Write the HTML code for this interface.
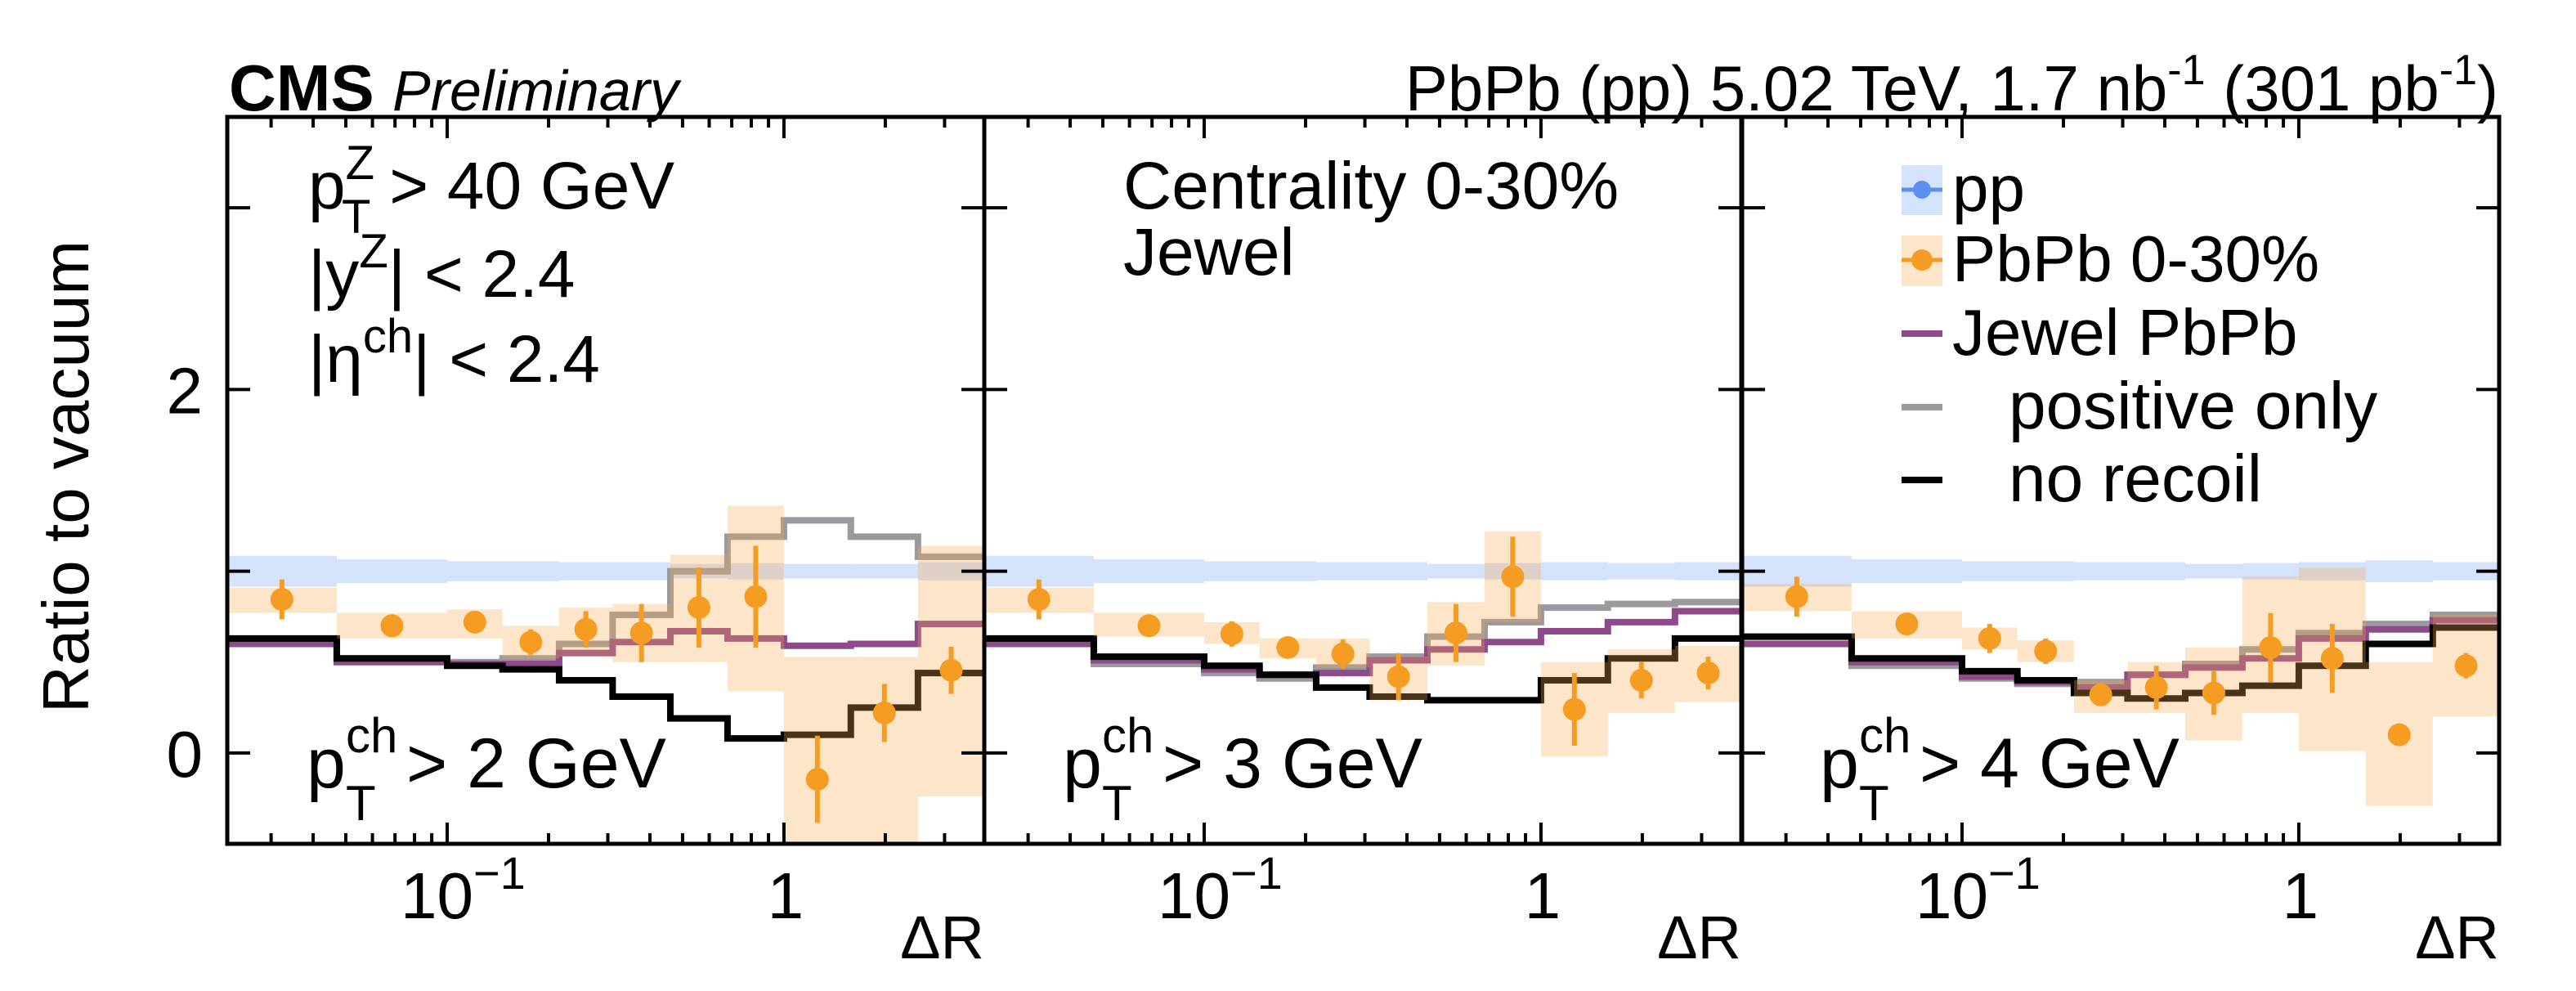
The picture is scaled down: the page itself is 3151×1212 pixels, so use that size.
<!DOCTYPE html>
<html><head><meta charset="utf-8">
<style>
html,body{margin:0;padding:0;background:#fff;}
svg{display:block;font-family:"Liberation Sans",Arial,sans-serif;}
</style></head>
<body>
<svg id="chart" width="3151" height="1212" viewBox="0 0 3151 1212" xmlns="http://www.w3.org/2000/svg"></svg>
<script>
// ---- data ----
const binEdges = [0.0222, 0.047, 0.1, 0.146, 0.215, 0.31, 0.46, 0.68, 1.0, 1.58, 2.5, 3.94];
const yTicks = [0, 1, 2, 3];
const yTickLabels = ["0", "", "2", ""];
const ptLabels = ["2", "3", "4"];

const p1Val = [0.845,0.70,0.72,0.61,0.68,0.66,0.80,0.86,-0.145,0.22,0.455];
const p1Stat = [0.11,0.03,0.06,0.07,0.10,0.16,0.22,0.28,0.24,0.16,0.13];
const p1SysHi = [0.91,0.77,0.79,0.70,0.80,0.82,1.09,1.36,0.53,0.53,1.14];
const p1SysLo = [0.77,0.63,0.63,0.52,0.53,0.50,0.50,0.34,-0.9,-0.7,-0.24];
const p1Jewel = [0.60,0.50,0.49,0.49,0.55,0.61,0.67,0.63,0.59,0.60,0.71];
const p1Pos = [0.60,0.52,0.50,0.52,0.60,0.76,1.00,1.19,1.28,1.19,1.08];
const p1NoRec = [0.63,0.52,0.48,0.46,0.40,0.31,0.19,0.08,0.10,0.25,0.44];
const p1PpErr = [0.085,0.065,0.055,0.055,0.05,0.05,0.04,0.045,0.04,0.04,0.05];

const p2Val = [0.845,0.70,0.655,0.58,0.545,0.42,0.66,0.97,0.24,0.40,0.44];
const p2Stat = [0.11,0.04,0.07,0.06,0.08,0.13,0.16,0.22,0.20,0.10,0.09];
const p2SysHi = [0.91,0.77,0.72,0.63,0.63,0.53,0.83,1.22,0.50,0.57,0.59];
const p2SysLo = [0.77,0.64,0.60,0.52,0.47,0.29,0.48,0.72,-0.02,0.22,0.28];
const p2Jewel = [0.60,0.51,0.46,0.43,0.44,0.51,0.57,0.61,0.67,0.72,0.78];
const p2Pos = [0.60,0.49,0.44,0.41,0.47,0.53,0.64,0.72,0.80,0.82,0.83];
const p2NoRec = [0.63,0.53,0.48,0.43,0.36,0.31,0.29,0.29,0.40,0.52,0.63];
const p2PpErr = [0.085,0.065,0.055,0.055,0.05,0.05,0.04,0.045,0.05,0.045,0.05];

const p3Val = [0.86,0.71,0.63,0.56,0.32,0.36,0.33,0.58,0.52,0.10,0.48];
const p3Stat = [0.11,0.03,0.08,0.07,0.05,0.12,0.12,0.19,0.19,0.06,0.07];
const p3SysHi = [0.93,0.78,0.69,0.62,0.40,0.50,0.58,0.97,1.02,0.50,0.76];
const p3SysLo = [0.78,0.63,0.57,0.50,0.22,0.22,0.07,0.22,0.01,-0.29,0.20];
const p3Jewel = [0.60,0.50,0.42,0.39,0.36,0.43,0.47,0.52,0.63,0.68,0.73];
const p3Pos = [0.60,0.48,0.41,0.38,0.39,0.43,0.49,0.57,0.66,0.71,0.76];
const p3NoRec = [0.64,0.52,0.45,0.40,0.33,0.30,0.33,0.37,0.48,0.60,0.69];
const p3PpErr = [0.085,0.065,0.055,0.055,0.05,0.05,0.04,0.045,0.05,0.06,0.05];

// ---- layout ----
const NS = "http://www.w3.org/2000/svg";
const svg = document.getElementById("chart");
const panelX = [278, 1204, 2131];
const panelW = 926;
const plotTop = 143, plotBot = 1032;
const yMin = -0.5, yMax = 3.5;
const logMin = -1.653, logMax = 0.595;
function yS(v){ return plotBot - (v - yMin) / (yMax - yMin) * (plotBot - plotTop); }
function xS(p, v){ return panelX[p] + (Math.log10(v) - logMin) / (logMax - logMin) * panelW; }
function mk(tag, attrs, parent){
  const e = document.createElementNS(NS, tag);
  for (const k in attrs) e.setAttribute(k, attrs[k]);
  (parent || svg).appendChild(e);
  return e;
}
const clipDef = mk("defs", {});
for (let p = 0; p < 3; p++) {
  const cp = mk("clipPath", {id: "clip" + p}, clipDef);
  mk("rect", {x: panelX[p], y: plotTop, width: panelW, height: plotBot - plotTop}, cp);
}

const panels = [
  {val:p1Val, stat:p1Stat, hi:p1SysHi, lo:p1SysLo, jw:p1Jewel, pos:p1Pos, nr:p1NoRec, pp:p1PpErr},
  {val:p2Val, stat:p2Stat, hi:p2SysHi, lo:p2SysLo, jw:p2Jewel, pos:p2Pos, nr:p2NoRec, pp:p2PpErr},
  {val:p3Val, stat:p3Stat, hi:p3SysHi, lo:p3SysLo, jw:p3Jewel, pos:p3Pos, nr:p3NoRec, pp:p3PpErr}
];

function stepPath(p, arr){
  let d = "";
  for (let i = 0; i < arr.length; i++) {
    const x0 = xS(p, binEdges[i]), x1 = xS(p, binEdges[i+1]), y = yS(arr[i]);
    d += (i === 0 ? "M" : "L") + x0 + "," + y + " L" + x1 + "," + y + " ";
  }
  return d;
}

panels.forEach((P, p) => {
  const g = mk("g", {"clip-path": "url(#clip" + p + ")"});
  
  
  for (let i = 0; i < P.pp.length; i++) {
    const x0 = xS(p, binEdges[i]), x1 = xS(p, binEdges[i+1]);
    const r = mk("rect", {x:x0, y:yS(1+P.pp[i]), width:x1-x0, height:yS(1-P.pp[i])-yS(1+P.pp[i]), fill:"rgba(100,150,240,0.28)"}, g);
    
    
  }
  const series = [[P.pos, "#9a9a9e", "positive-only-line"], [P.jw, "#8f4a8c", "jewel-pbpb-line"], [P.nr, "#000000", "no-recoil-line"]];
  series.forEach(s => {
    const l = mk("path", {d: stepPath(p, s[0]), fill:"none", stroke:s[1], "stroke-width":8}, g);
    
    
  });
  for (let i = 0; i < P.val.length; i++) {
    const x0 = xS(p, binEdges[i]), x1 = xS(p, binEdges[i+1]);
    const b = mk("rect", {x:x0, y:yS(P.hi[i]), width:x1-x0, height:yS(P.lo[i])-yS(P.hi[i]), fill:"rgba(248,170,80,0.3)"}, g);
    
    
  }
  for (let i = 0; i < P.val.length; i++) {
    const xc = Math.sqrt(binEdges[i] * binEdges[i+1]);
    const x = xS(p, xc);
    const e = mk("line", {x1:x, x2:x, y1:yS(P.val[i]+P.stat[i]), y2:yS(P.val[i]-P.stat[i]), stroke:"#f59c22", "stroke-width":6}, g);
    
    
    const c = mk("circle", {cx:x, cy:yS(P.val[i]), r:14, fill:"#f59c22"}, g);
    
    
  }
  const f = mk("rect", {x:panelX[p], y:plotTop, width:panelW, height:plotBot-plotTop, fill:"none", stroke:"#000", "stroke-width":5});
  
  
  yTicks.forEach((t, k) => {
    const y = yS(t);
    const tl = mk("line", {x1:panelX[p], x2:panelX[p]+28, y1:y, y2:y, stroke:"#000", "stroke-width":4});
    
    
    const tr = mk("line", {x1:panelX[p]+panelW-28, x2:panelX[p]+panelW, y1:y, y2:y, stroke:"#000", "stroke-width":4});
    
    
    if (p === 0 && yTickLabels[k]) {
      const lab = mk("text", {x:panelX[0]-30, y:y+29, "font-size":80, "text-anchor":"end"});
      lab.textContent = yTickLabels[k];
      
      
    }
  });
  for (let dec = -2; dec <= 0; dec++) {
    for (let m = 1; m <= 9; m++) {
      const v = m * Math.pow(10, dec);
      if (v < binEdges[0] || v > binEdges[binEdges.length-1]) continue;
      const x = xS(p, v);
      const len = m === 1 ? 26 : 13;
      const b = mk("line", {x1:x, x2:x, y1:plotBot, y2:plotBot-len, stroke:"#000", "stroke-width":4});
      
      
      const t = mk("line", {x1:x, x2:x, y1:plotTop, y2:plotTop+len, stroke:"#000", "stroke-width":4});
      
      
    }
  }
  const l1 = mk("text", {x:xS(p,0.1)-57, y:1123, "font-size":80});
  l1.innerHTML = '10<tspan dy="-36" font-size="56">−1</tspan>';
  
  
  const l2 = mk("text", {x:xS(p,1)+2, y:1123, "font-size":80, "text-anchor":"middle"});
  l2.textContent = "1";
  
  
  const xt = mk("text", {x:panelX[p]+panelW, y:1172, "font-size":74, "text-anchor":"end"});
  xt.textContent = "ΔR";
  
  
  const px = [375,1300,2226][p];
  const pg = mk("g", {});
  
  
  const a = mk("text", {x:px, y:963, "font-size":86}, pg); a.textContent = "p";
  const b2 = mk("text", {x:px+48, y:920, "font-size":60}, pg); b2.textContent = "ch";
  const c2 = mk("text", {x:px+48, y:1003, "font-size":60}, pg); c2.textContent = "T";
  const d2 = mk("text", {x:px+122, y:963, "font-size":86}, pg); d2.textContent = "> " + ptLabels[p] + " GeV";
});
</script>
<svg style="position:absolute;left:0;top:0" width="3151" height="1212" xmlns="http://www.w3.org/2000/svg" font-family="Liberation Sans, Arial, sans-serif">
  <text x="280" y="135" font-size="80" font-weight="bold">CMS <tspan font-weight="normal" font-style="italic" font-size="70">Preliminary</tspan></text>
  <text x="3056" y="135" font-size="78" text-anchor="end">PbPb (pp) 5.02 TeV, 1.7 nb<tspan dy="-32" font-size="52">-1</tspan><tspan dy="32"> (301 pb</tspan><tspan dy="-32" font-size="52">-1</tspan><tspan dy="32">)</tspan></text>
  <text transform="translate(108,583) rotate(-90)" font-size="80" text-anchor="middle">Ratio to vacuum</text>
  <text x="377" y="255" font-size="82">p<tspan dy="-36" font-size="58">Z</tspan><tspan dx="-40" dy="66" font-size="58">T</tspan><tspan dy="-30"> &gt; 40 GeV</tspan></text>
  <text x="377" y="363" font-size="82">|y<tspan dy="-36" font-size="58">Z</tspan><tspan dy="36">| &lt; 2.4</tspan></text>
  <text x="377" y="467" font-size="82">|η<tspan dy="-36" font-size="58">ch</tspan><tspan dy="36">| &lt; 2.4</tspan></text>
  <text x="1374" y="255" font-size="82">Centrality 0-30%</text>
  <text x="1374" y="336" font-size="82">Jewel</text>
  <g>
    <rect x="2326" y="202" width="50" height="61" fill="rgba(100,150,240,0.28)"/>
    <line x1="2326" x2="2376" y1="232" y2="232" stroke="#5b8ff0" stroke-width="5"/>
    <circle cx="2351" cy="232" r="11" fill="#5b8ff0"/>
    <text x="2388" y="258" font-size="80">pp</text>
    <rect x="2326" y="288" width="50" height="62" fill="rgba(248,170,80,0.3)"/>
    <line x1="2326" x2="2376" y1="318" y2="318" stroke="#f59c22" stroke-width="5"/>
    <circle cx="2351" cy="318" r="13" fill="#f59c22"/>
    <text x="2388" y="344" font-size="80">PbPb 0-30%</text>
    <line x1="2326" x2="2376" y1="408" y2="408" stroke="#8f4a8c" stroke-width="8"/>
    <text x="2388" y="434" font-size="80">Jewel PbPb</text>
    <line x1="2326" x2="2376" y1="498" y2="498" stroke="#9a9a9e" stroke-width="8"/>
    <text x="2457" y="524" font-size="82">positive only</text>
    <line x1="2326" x2="2376" y1="587" y2="587" stroke="#000" stroke-width="8"/>
    <text x="2457" y="613" font-size="82">no recoil</text>
  </g>
</svg>
</body></html>
